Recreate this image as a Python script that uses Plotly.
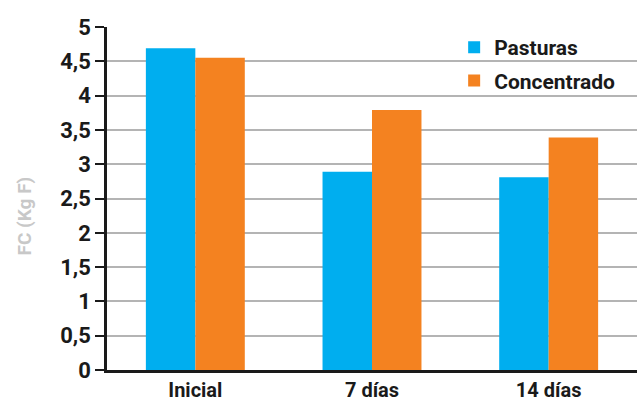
import plotly.graph_objects as go

categories = ["Inicial", "7 días", "14 días"]
pasturas = [4.69, 2.89, 2.81]
concentrado = [4.55, 3.79, 3.39]
y_ticks = [0, 0.5, 1, 1.5, 2, 2.5, 3, 3.5, 4, 4.5, 5]
y_tick_labels = ["0", "0,5", "1", "1,5", "2", "2,5", "3", "3,5", "4", "4,5", "5"]
y_title = "FC (Kg F)"

FONT = "Roboto, Liberation Sans, Arial, sans-serif"
INK = "#1a1a1a"

fig = go.Figure()
fig.add_trace(go.Bar(name="Pasturas", x=categories, y=pasturas, marker_color="#00AEEF",
                     marker_line_width=0, legendgroup="p"))
fig.add_trace(go.Bar(name="Concentrado", x=categories, y=concentrado, marker_color="#F48220",
                     marker_line_width=0, legendgroup="c"))

fig.update_layout(
    width=643, height=403,
    margin=dict(l=107, r=6, t=27, b=33, autoexpand=False),
    paper_bgcolor="white", plot_bgcolor="white",
    barmode="group", bargap=0.44, bargroupgap=0,
    font=dict(family=FONT, color=INK, size=20),
    legend=dict(x=0.655, y=1.0, xanchor="left", yanchor="top",
                font=dict(family=FONT, size=21, color=INK, weight="bold"),
                bgcolor="rgba(0,0,0,0)", itemwidth=30, tracegroupgap=3),
    showlegend=True,
)
fig.add_annotation(text=y_title, xref="paper", yref="paper", x=-0.155, y=0.45,
                   xanchor="center", yanchor="middle", textangle=-90, showarrow=False,
                   font=dict(family=FONT, size=19, color="#c8c8c8", weight="bold"))
fig.update_xaxes(showline=True, linecolor=INK, linewidth=2.5, ticks="",
                 automargin=False,
                 tickfont=dict(family=FONT, size=20, color=INK, weight="bold"),
                 showgrid=False)
fig.update_yaxes(range=[0, 5], tickvals=y_ticks, ticktext=y_tick_labels,
                 automargin=False,
                 showline=True, linecolor=INK, linewidth=2.5,
                 ticks="outside", ticklen=9, tickwidth=2, tickcolor=INK,
                 showgrid=True, gridcolor="#b4b4b4", gridwidth=2,
                 zeroline=False,
                 tickfont=dict(family=FONT, size=22, color=INK, weight="bold"))

fig.write_html("out.html")
